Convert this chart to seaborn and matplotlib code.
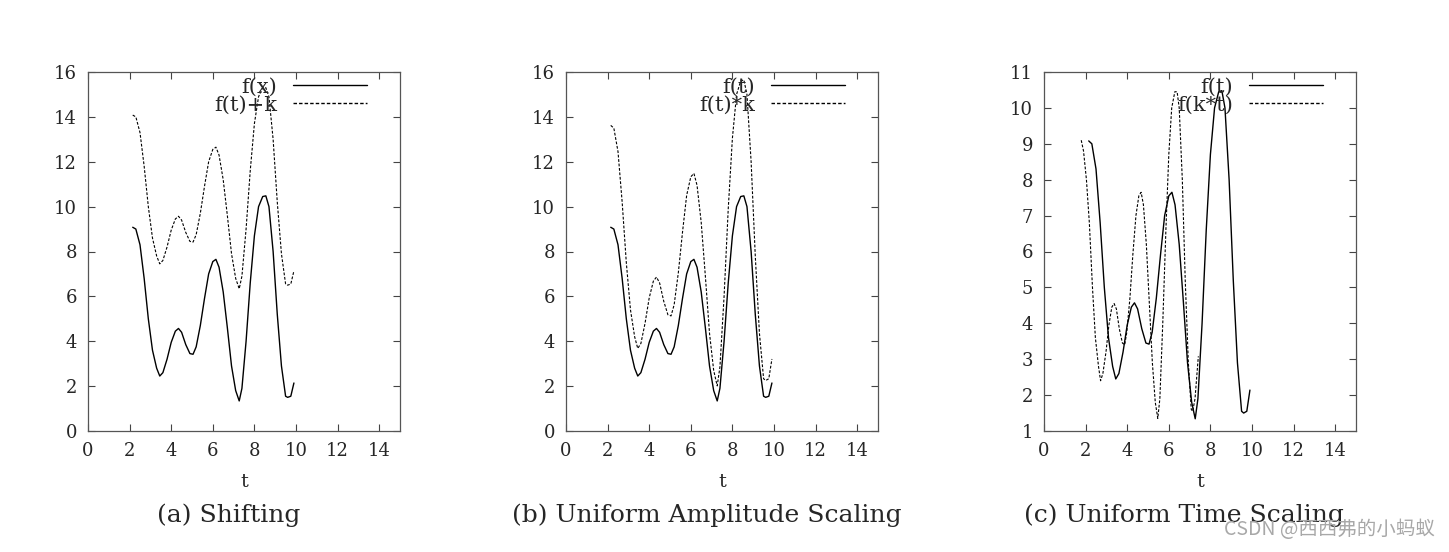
import numpy as np
import pandas as pd
import matplotlib
matplotlib.use("Agg")
import matplotlib.pyplot as plt
import seaborn as sns

# original signal f(t)
t_vals = [2.15, 2.3, 2.5, 2.7, 2.9, 3.1, 3.3, 3.45, 3.6, 3.8, 4.0, 4.2, 4.35, 4.5, 4.7,
          4.9, 5.05, 5.2, 5.4, 5.6, 5.8, 6.0, 6.15, 6.3, 6.5, 6.7, 6.9, 7.1, 7.27, 7.4,
          7.6, 7.8, 8.0, 8.2, 8.4, 8.55, 8.7, 8.9, 9.1, 9.3, 9.5, 9.6, 9.75, 9.9]
f_vals = [9.08, 9.0, 8.3, 6.8, 5.0, 3.6, 2.8, 2.45, 2.6, 3.2, 3.95, 4.45, 4.57, 4.4, 3.85,
          3.45, 3.42, 3.75, 4.7, 5.9, 7.0, 7.55, 7.65, 7.3, 6.2, 4.6, 2.9, 1.8, 1.34, 1.9,
          4.0, 6.6, 8.7, 10.0, 10.45, 10.48, 10.0, 8.0, 5.2, 2.9, 1.55, 1.5, 1.55, 2.14]

# (a) shifted curve f(t)+k
shift_vals = [14.08, 14.0, 13.3, 11.8, 10.0, 8.6, 7.8, 7.45, 7.6, 8.2, 8.95, 9.45, 9.57, 9.4, 8.85,
              8.45, 8.42, 8.75, 9.7, 10.9, 12.0, 12.55, 12.65, 12.3, 11.2, 9.6, 7.9, 6.8, 6.34, 6.9,
              9.0, 11.6, 13.7, 14.9, 15.3, 15.3, 14.9, 13.0, 10.2, 7.9, 6.55, 6.5, 6.55, 7.14]

# (b) amplitude-scaled curve f(t)*k
scale_vals = [13.62, 13.5, 12.45, 10.2, 7.5, 5.4, 4.2, 3.68, 3.9, 4.8, 5.93, 6.68, 6.86, 6.6, 5.78,
              5.18, 5.13, 5.63, 7.05, 8.85, 10.5, 11.33, 11.48, 10.95, 9.3, 6.9, 4.35, 2.7, 2.01, 2.85,
              6.0, 9.9, 13.05, 15.0, 15.6, 15.65, 15.0, 12.0, 7.8, 4.35, 2.33, 2.25, 2.33, 3.21]

# (c) time-scaled curve f(k*t)
tk_vals = [1.79, 1.9, 2.04, 2.18, 2.33, 2.47, 2.62, 2.72, 2.83, 2.98, 3.12, 3.26, 3.37, 3.48, 3.62,
           3.77, 3.88, 3.98, 4.13, 4.27, 4.42, 4.56, 4.67, 4.78, 4.92, 5.06, 5.21, 5.35, 5.47, 5.57,
           5.71, 5.86, 6.0, 6.14, 6.29, 6.4, 6.5, 6.65, 6.79, 6.94, 7.08, 7.15, 7.26, 7.42]
ftk_vals = [9.1, 8.8, 8.0, 6.8, 5.0, 3.6, 2.8, 2.4, 2.6, 3.2, 3.95, 4.45, 4.55, 4.4, 3.85,
            3.45, 3.4, 3.75, 4.7, 5.9, 7.0, 7.55, 7.65, 7.3, 6.2, 4.6, 2.9, 1.8, 1.35, 1.9,
            4.0, 6.6, 8.7, 10.0, 10.45, 10.45, 10.0, 8.0, 5.2, 2.9, 1.6, 1.55, 1.9, 3.08]

captions = ["(a) Shifting", "(b) Uniform Amplitude Scaling", "(c) Uniform Time Scaling"]
legend_labels = [("f(x)", "f(t)+k"), ("f(t)", "f(t)*k"), ("f(t)", "f(k*t)")]
x_ticks = [0, 2, 4, 6, 8, 10, 12, 14]
y_ticks_ab = [0, 2, 4, 6, 8, 10, 12, 14, 16]
y_ticks_c = [1, 2, 3, 4, 5, 6, 7, 8, 9, 10, 11]

sns.set_theme(style="ticks")
plt.rcParams["font.family"] = ["DejaVu Serif", "Liberation Serif"]

fig = plt.figure(figsize=(14.49, 5.52), dpi=100)

lefts = [88, 566, 1044]
panels = [
    (t_vals, shift_vals, y_ticks_ab),
    (t_vals, scale_vals, y_ticks_ab),
    (tk_vals, ftk_vals, y_ticks_c),
]

dash = (0, (2.5, 1.5))

for i, (tx, ty, yt) in enumerate(panels):
    ax = fig.add_axes([lefts[i] / 1449, 121 / 552, 312 / 1449, 359 / 552])
    lab_solid, lab_dash = legend_labels[i]
    sns.lineplot(x=t_vals, y=f_vals, ax=ax, color="black", linewidth=1.0,
                 estimator=None, sort=False, label=lab_solid)
    sns.lineplot(x=tx, y=ty, ax=ax, color="black", linewidth=0.8,
                 estimator=None, sort=False, linestyle=dash, label=lab_dash)

    ax.set_xlim(0, 15)
    ax.set_ylim(yt[0], yt[-1])
    ax.set_xticks(x_ticks)
    ax.set_yticks(yt)
    ax.tick_params(direction="in", length=5, width=0.8, color="#444444",
                   top=True, right=True, labelsize=13, pad=8)
    for s in ax.spines.values():
        s.set_color("#555555")
        s.set_linewidth(0.9)

    ax.set_xlabel("t", fontsize=14, labelpad=9)
    ax.set_ylabel("")
    ax.text(0.45, -0.235, captions[i], transform=ax.transAxes, ha="center",
            va="center", fontsize=18)

    leg = ax.legend(loc="upper right", bbox_to_anchor=(0.94, 1.025), markerfirst=False,
                    frameon=False, fontsize=15, handlelength=3.55, handletextpad=0.75,
                    labelspacing=-0.05, borderpad=0.2)
    for line in leg.get_lines():
        line.set_linewidth(1.0)

fig.text(0.99, 0.04, "CSDN @西西弗的小蚂蚁", ha="right", va="center",
         fontsize=14, color="#a8a8a8",
         family=["Noto Sans CJK SC", "DejaVu Sans"])

fig.savefig("out.png", dpi=100)
